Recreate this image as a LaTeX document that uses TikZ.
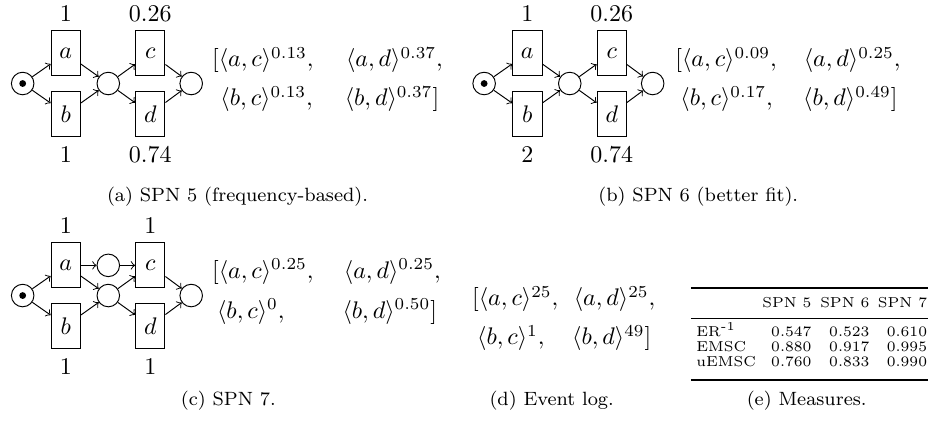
\documentclass[tikz,border=0pt]{standalone}
\usetikzlibrary{positioning}
\begin{document}
\begin{tikzpicture}[
  every node/.style = {font=\normalsize},
  place/.style = {draw, circle, minimum size=3.3mm, inner sep=0pt},
  trans/.style = {draw, rectangle, minimum width=4.3mm, minimum height=6.6mm, inner sep=0pt},
  tok/.style   = {fill, circle, minimum size=1mm, inner sep=0pt},
  wt/.style    = {inner sep=3.33pt},
  arc/.style   = {->},
  seq/.style   = {anchor=base west, inner sep=0pt},
  subcap/.style = {font=\footnotesize, anchor=base, inner sep=0pt},
  cell/.style  = {font=\fontsize{6}{7}\selectfont, anchor=base east, inner sep=0pt},
  rowname/.style = {font=\fontsize{6}{7}\selectfont, anchor=base west, inner sep=0pt},
]
\useasboundingbox (0,0) rectangle (13.59,-6.18);

% --- (a) SPN 5 -----------------------------------------------------------
\node[place] (i5) at (0.332,-1.223) {};
\node[tok] (k5) at (i5) {};
\node[trans] (a5) at (0.964,-0.781) {$a$};
\node[trans] (b5) at (0.964,-1.665) {$b$};
\node[place] (m5) at (1.586,-1.223) {};
\node[trans] (c5) at (2.201,-0.781) {$c$};
\node[trans] (d5) at (2.201,-1.665) {$d$};
\node[place] (o5) at (2.800,-1.223) {};
\node[wt, above=0pt of a5] (w5a) {1};
\node[wt, below=0.5pt of b5] (w5b) {1};
\node[wt, above=0pt of c5] (w5c) {0.26};
\node[wt, below=0.5pt of d5] (w5d) {0.74};
\draw[arc] (i5) -- (a5);
\draw[arc] (i5) -- (b5);
\draw[arc] (a5) -- (m5);
\draw[arc] (b5) -- (m5);
\draw[arc] (m5) -- (c5);
\draw[arc] (m5) -- (d5);
\draw[arc] (c5) -- (o5);
\draw[arc] (d5) -- (o5);
\node[seq] (s5ac) at (3.100,-0.977) {$[\langle a,c\rangle^{0.13},$};
\node[seq] (s5ad) at (5.060,-0.977) {$\langle a,d\rangle^{0.37},$};
\node[seq] (s5bc) at (3.222,-1.552) {$\langle b,c\rangle^{0.13},$};
\node[seq] (s5bd) at (5.042,-1.552) {$\langle b,d\rangle^{0.37}]$};
\node[subcap] (capa) at (3.478,-2.958) {(a) SPN 5 (frequency-based).};

% --- (b) SPN 6 -----------------------------------------------------------
\node[place] (i6) at (7.090,-1.223) {};
\node[tok] (k6) at (i6) {};
\node[trans] (a6) at (7.722,-0.781) {$a$};
\node[trans] (b6) at (7.722,-1.665) {$b$};
\node[place] (m6) at (8.344,-1.223) {};
\node[trans] (c6) at (8.959,-0.781) {$c$};
\node[trans] (d6) at (8.959,-1.665) {$d$};
\node[place] (o6) at (9.558,-1.223) {};
\node[wt, above=0pt of a6] (w6a) {1};
\node[wt, below=0.5pt of b6] (w6b) {2};
\node[wt, above=0pt of c6] (w6c) {0.26};
\node[wt, below=0.5pt of d6] (w6d) {0.74};
\draw[arc] (i6) -- (a6);
\draw[arc] (i6) -- (b6);
\draw[arc] (a6) -- (m6);
\draw[arc] (b6) -- (m6);
\draw[arc] (m6) -- (c6);
\draw[arc] (m6) -- (d6);
\draw[arc] (c6) -- (o6);
\draw[arc] (d6) -- (o6);
\node[seq] (s6ac) at (9.885,-0.977) {$[\langle a,c\rangle^{0.09},$};
\node[seq] (s6ad) at (11.764,-0.977) {$\langle a,d\rangle^{0.25},$};
\node[seq] (s6bc) at (9.958,-1.552) {$\langle b,c\rangle^{0.17},$};
\node[seq] (s6bd) at (11.755,-1.552) {$\langle b,d\rangle^{0.49}]$};
\node[subcap] (capb) at (10.226,-2.958) {(b) SPN 6 (better fit).};

% --- (c) SPN 7 -----------------------------------------------------------
\node[place] (i7) at (0.332,-4.328) {};
\node[tok] (k7) at (i7) {};
\node[trans] (a7) at (0.964,-3.886) {$a$};
\node[trans] (b7) at (0.964,-4.770) {$b$};
\node[place] (u7) at (1.586,-3.886) {};
\node[place] (m7) at (1.586,-4.328) {};
\node[trans] (c7) at (2.201,-3.886) {$c$};
\node[trans] (d7) at (2.201,-4.770) {$d$};
\node[place] (o7) at (2.800,-4.328) {};
\node[wt, above=0pt of a7] (w7a) {1};
\node[wt, below=0.5pt of b7] (w7b) {1};
\node[wt, above=0pt of c7] (w7c) {1};
\node[wt, below=0.5pt of d7] (w7d) {1};
\draw[arc] (i7) -- (a7);
\draw[arc] (i7) -- (b7);
\draw[arc] (a7) -- (u7);
\draw[arc] (u7) -- (c7);
\draw[arc] (a7) -- (m7);
\draw[arc] (b7) -- (m7);
\draw[arc] (m7) -- (c7);
\draw[arc] (m7) -- (d7);
\draw[arc] (c7) -- (o7);
\draw[arc] (d7) -- (o7);
\node[seq] (s7ac) at (3.100,-4.078) {$[\langle a,c\rangle^{0.25},$};
\node[seq] (s7ad) at (5.030,-4.078) {$\langle a,d\rangle^{0.25},$};
\node[seq] (s7bc) at (3.173,-4.657) {$\langle b,c\rangle^{0},$};
\node[seq] (s7bd) at (5.010,-4.657) {$\langle b,d\rangle^{0.50}]$};
\node[subcap] (capc) at (3.343,-5.945) {(c) SPN 7.};

% --- (d) event log -------------------------------------------------------
\node[seq] (lac) at (6.908,-4.477) {$[\langle a,c\rangle^{25},$};
\node[seq] (lad) at (8.396,-4.477) {$\langle a,d\rangle^{25},$};
\node[seq] (lbc) at (6.981,-5.052) {$\langle b,c\rangle^{1},$};
\node[seq] (lbd) at (8.372,-5.052) {$\langle b,d\rangle^{49}]$};
\node[subcap] (capd) at (8.079,-5.945) {(d) Event log.};

% --- (e) measures --------------------------------------------------------
\draw[line width=0.8pt] (10.119,-4.222) -- (13.59,-4.222);
\draw[line width=0.5pt] (10.119,-4.661) -- (13.59,-4.661);
\draw[line width=0.8pt] (10.119,-5.565) -- (13.59,-5.565);
\node[cell] (h5) at (11.891,-4.510) {SPN 5};
\node[cell] (h6) at (12.740,-4.510) {SPN 6};
\node[cell] (h7) at (13.583,-4.510) {SPN 7};
\node[rowname] (rer) at (10.192,-4.935) {ER\textsuperscript{-1}};
\node[cell] (er5) at (11.891,-4.935) {0.547};
\node[cell] (er6) at (12.740,-4.935) {0.523};
\node[cell] (er7) at (13.583,-4.935) {0.610};
\node[rowname] (rem) at (10.192,-5.147) {EMSC};
\node[cell] (em5) at (11.891,-5.147) {0.880};
\node[cell] (em6) at (12.740,-5.147) {0.917};
\node[cell] (em7) at (13.583,-5.147) {0.995};
\node[rowname] (rue) at (10.192,-5.360) {uEMSC};
\node[cell] (ue5) at (11.891,-5.360) {0.760};
\node[cell] (ue6) at (12.740,-5.360) {0.833};
\node[cell] (ue7) at (13.583,-5.360) {0.990};
\node[subcap] (cape) at (11.813,-5.945) {(e) Measures.};

\end{tikzpicture}
\end{document}
